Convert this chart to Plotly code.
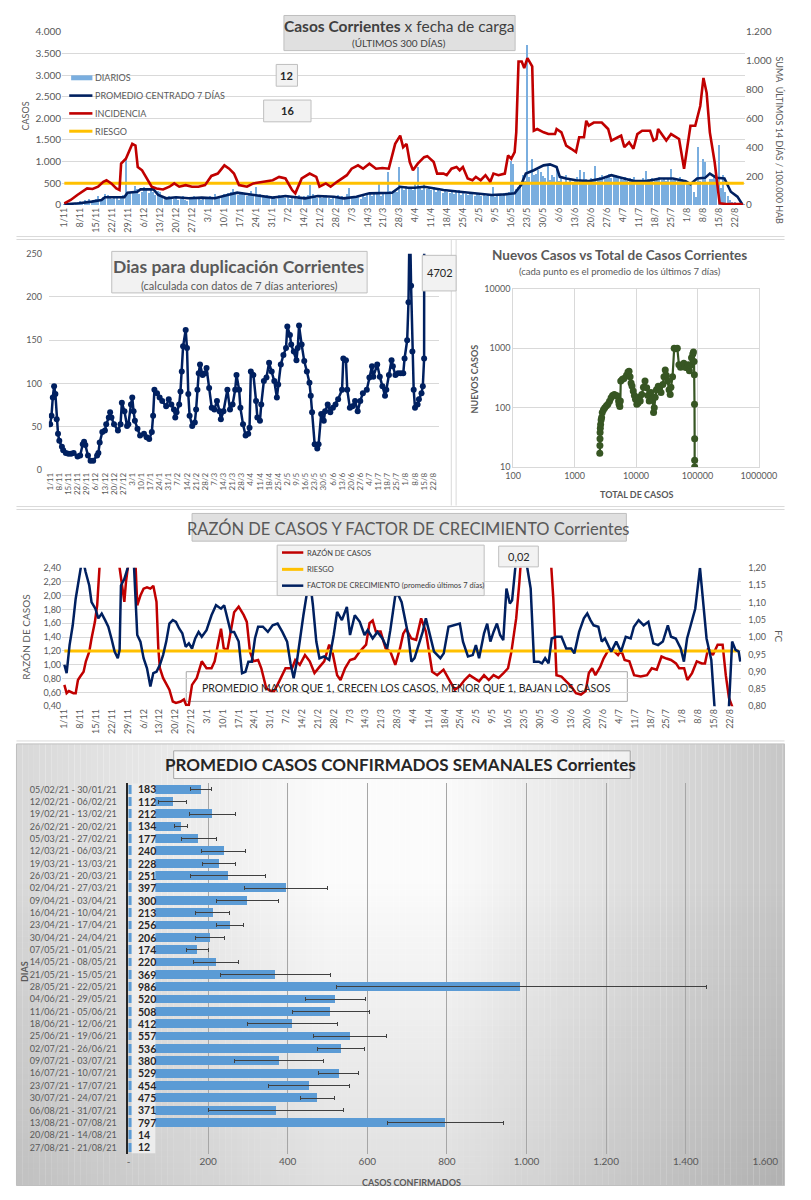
import plotly.graph_objects as go

PAGE_W, PAGE_H = 811, 1200
PAGE_MARGIN = 8  # the browser page adds an 8px body margin around the figure
W, H = PAGE_W - 2 * PAGE_MARGIN, PAGE_H - 2 * PAGE_MARGIN
FONT = "Lato"
GREY = "#595959"
DARK = "#404040"
RED = "#c00000"
NAVY = "#002060"
YELLOW = "#ffc000"
GREEN = "#375623"
BAR_BLUE = "#7aaedf"
WEEK_BLUE = "#5b9bd5"
GRID = "#d9d9d9"


def fx(p):
    return (p - PAGE_MARGIN) / W


def fy(p):
    return 1 - (p - PAGE_MARGIN) / H


# ---------------- data ----------------
DATE_TICK_LABELS = ["1/11", "8/11", "15/11", "22/11", "29/11", "6/12", "13/12", "20/12", "27/12",
                    "3/1", "10/1", "17/1", "24/1", "31/1", "7/2", "14/2", "21/2", "28/2", "7/3",
                    "14/3", "21/3", "28/3", "4/4", "11/4", "18/4", "25/4", "2/5", "9/5", "16/5",
                    "23/5", "30/5", "6/6", "13/6", "20/6", "27/6", "4/7", "11/7", "18/7", "25/7",
                    "1/8", "8/8", "15/8", "22/8"]
DATE_TICK_DAYS = [7 * i for i in range(len(DATE_TICK_LABELS))]  # days since 1/11/2020

# daily cases (day 0 = 1/11/2020)
DAILY_CASES = [
    10, 25, 40, 30, 50, 35, 60,
    90, 60, 110, 70, 130, 95, 80,
    150, 200, 120, 180, 250, 230, 160,
    140, 180, 190, 120, 200, 230, 1100,
    250, 280, 310, 450, 380, 260, 300,
    420, 350, 280, 390, 310, 240, 330,
    300, 200, 180, 140, 220, 160, 130,
    170, 120, 150, 200, 110, 90, 160,
    140, 220, 180, 150, 120, 190, 160,
    130, 200, 150, 260, 180, 170, 210,
    250, 200, 290, 310, 380, 260, 230,
    280, 300, 240, 200, 270, 330, 250,
    420, 220, 260, 200, 180, 240, 210,
    170, 200, 150, 230, 190, 210, 160,
    180, 150, 200, 170, 130, 230, 190,
    210, 180, 240, 460, 250, 200, 170,
    190, 160, 210, 230, 170, 150, 180,
    200, 230, 170, 210, 180, 250, 400,
    170, 160, 210, 190, 140, 200, 180,
    230, 260, 210, 280, 250, 480, 220,
    300, 260, 760, 320, 280, 350, 300,
    890, 400, 350, 450, 380, 420, 340,
    480, 880, 420, 360, 530, 380, 400,
    350, 420, 300, 380, 330, 290, 360,
    310, 280, 330, 260, 300, 350, 240,
    280, 250, 230, 300, 260, 220, 290,
    240, 210, 260, 200, 230, 250, 420,
    190, 230, 260, 210, 280, 250, 300,
    1030, 950, 380, 420, 500, 690, 560,
    3700, 640, 1070, 690, 720, 800, 760,
    680, 620, 900, 580, 700, 650, 860,
    560, 620, 480, 700, 540, 600, 520,
    580, 640, 800, 520, 760, 600, 540,
    620, 560, 914, 580, 640, 700, 600,
    660, 720, 620, 680, 700, 640, 610,
    580, 640, 560, 620, 600, 660, 540,
    580, 520, 620, 785, 600, 540, 620,
    560, 600, 640, 580, 620, 560, 600,
    840, 580, 620, 560, 640, 600, 580,
    560, 520, 480, 300, 180, 1333, 560,
    1070, 990, 520, 610, 610, 700, 640,
    1387, 400, 690, 300, 200, 120, 80,
    60, 40, 30, 16, 12, 0,
]

# 7-day centred average (day, cases)
PROMEDIO = [(0, 15), (6.4, 38), (12, 76), (16.3, 114), (17.8, 175), (26.3, 175), (27.7, 282),
            (32, 305), (33.4, 358), (39.1, 358), (41.2, 229), (44.7, 152), (49, 175), (54.6, 152),
            (60.3, 168), (66, 152), (71.6, 229), (75.8, 282), (80.1, 251), (85.7, 213), (91.4, 168),
            (97, 206), (102.7, 168), (105.5, 152), (111.2, 206), (118.2, 190), (122.5, 152),
            (128.1, 190), (133.8, 267), (139.5, 267), (143.7, 282), (147.3, 419), (150.8, 396),
            (153.6, 396), (157.8, 419), (160.6, 396), (166.3, 343), (173.4, 305), (180.5, 274),
            (187.5, 229), (193.2, 244), (197.5, 267), (200.3, 457), (202.4, 724), (205.9, 800),
            (210.2, 914), (213, 937), (215.9, 876), (217.3, 648), (220.1, 610), (224.4, 571),
            (230, 549), (235.7, 610), (239.9, 686), (244.2, 625), (249.9, 549), (255.5, 549),
            (261.2, 610), (266.9, 610), (272.5, 549), (274.6, 480), (277.5, 610), (281, 625),
            (283.1, 724), (286, 625), (289.5, 610), (292.3, 305), (295.2, 190), (297.3, 15)]

# incidence, 14-day sum per 100.000 (day, value)
INCIDENCIA = [(0, 11), (2.8, 34), (5.7, 69), (7.9, 91), (10, 114), (12.4, 110), (14.8, 126),
              (17.1, 160), (18.5, 171), (20.6, 149), (22.8, 114), (24.2, 103), (24.9, 286),
              (27, 320), (28.4, 366), (29.8, 423), (31.2, 411), (32.2, 263), (34.1, 240),
              (36.2, 183), (38.3, 126), (40.4, 114), (43.3, 107), (46.1, 126), (48.2, 149),
              (50.4, 126), (53.2, 137), (56, 126), (58.8, 126), (61.7, 137), (64.5, 201),
              (67.3, 217), (70.2, 274), (72.3, 251), (74.4, 217), (76.6, 137), (80.1, 126),
              (82.9, 149), (87.1, 160), (91.4, 171), (94.2, 194), (97, 183), (99.9, 103),
              (101.3, 80), (104.1, 183), (107.6, 217), (110.5, 194), (111.9, 126), (114.7, 149),
              (116.8, 126), (119.6, 160), (121.8, 183), (123.9, 206), (126, 251), (128.8, 274),
              (131, 251), (133.8, 286), (136.7, 251), (139.5, 256), (142.3, 251), (143.7, 343),
              (145.1, 423), (147.3, 480), (148.6, 400), (150.1, 423), (151.5, 297), (152.9, 240),
              (155, 286), (157.8, 331), (159.2, 338), (162, 297), (163.5, 217), (166.3, 217),
              (167.7, 206), (169.8, 251), (172, 263), (173.4, 240), (174.8, 263), (176.9, 183),
              (179, 171), (180.5, 194), (182.6, 171), (184.7, 206), (186.8, 160), (188.2, 217),
              (190.4, 206), (193.2, 217), (194.6, 343), (196, 320), (197.5, 366), (198.2, 503),
              (199.2, 994), (200.6, 994), (201.7, 949), (203.1, 1017), (205.2, 960), (205.9, 514),
              (207.4, 526), (210.2, 503), (212.3, 491), (215.2, 491), (215.9, 526), (218, 503),
              (220.1, 411), (222.3, 389), (224.4, 366), (225.8, 469), (227.9, 469), (228.9, 583),
              (230, 549), (232.2, 571), (235.7, 571), (238.5, 526), (239.9, 446), (242.8, 469),
              (244.2, 480), (245.6, 400), (247.7, 434), (249.6, 389), (251.3, 491), (253.4, 514),
              (256.9, 514), (258.4, 446), (259.7, 457), (260.4, 526), (264, 446), (266.1, 491),
              (268.2, 469), (269.6, 457), (271.8, 251), (273.2, 411), (274.6, 549), (276.7, 549),
              (278.9, 686), (280.3, 880), (281.7, 777), (283.1, 503), (285.2, 297), (287.4, 11),
              (290.9, 5), (296.6, 5), (297.7, 0)]

RIESGO_CASES = 500
RIESGO_SPAN = [0, 298]

# doubling time in days (day, value)
DUPLICACION = [(0, 53), (1, 63), (2, 84), (3, 97), (4, 88), (5, 59), (6, 42), (7, 34), (9, 27), (10, 23),
               (12, 20), (14, 19), (16, 19), (18, 20), (21, 16), (23, 17), (25, 30), (26, 33), (27, 29),
               (29, 17), (31, 11), (33, 11), (36, 17), (37, 20), (38, 32), (40, 44), (42, 46), (43, 53),
               (45, 61), (46, 67), (47, 61), (49, 53), (52, 46), (54, 53), (55, 78), (57, 68), (59, 51),
               (60, 53), (62, 76), (63, 84), (64, 68), (65, 57), (67, 48), (69, 40), (72, 42), (74, 38),
               (76, 36), (78, 44), (79, 63), (80, 93), (82, 89), (84, 84), (86, 80), (89, 74), (91, 82),
               (93, 76), (95, 70), (96, 61), (97, 67), (99, 76), (100, 91), (101, 114), (102, 143),
               (104, 162), (105, 141), (106, 88), (107, 63), (109, 51), (111, 55), (112, 70), (113, 93),
               (114, 112), (115, 122), (117, 110), (119, 112), (120, 118), (122, 95), (124, 72), (126, 70),
               (128, 80), (130, 68), (131, 59), (133, 68), (136, 93), (138, 70), (140, 76), (142, 93),
               (143, 110), (145, 93), (146, 72), (148, 53), (150, 40), (152, 42), (153, 49), (154, 114),
               (156, 110), (158, 80), (159, 61), (161, 57), (162, 76), (164, 103), (166, 107), (168, 124),
               (170, 114), (172, 103), (174, 84), (175, 99), (177, 122), (179, 133), (181, 141), (182, 166),
               (184, 156), (185, 145), (187, 137), (189, 127), (190, 141), (191, 167), (193, 145), (195, 126),
               (197, 114), (199, 101), (200, 86), (201, 67), (203, 30), (205, 25), (206, 30), (208, 65),
               (210, 57), (211, 68), (213, 76), (215, 67), (217, 72), (219, 76), (221, 82), (224, 93),
               (225, 129), (227, 127), (228, 93), (230, 72), (232, 74), (234, 80), (236, 68), (238, 80),
               (240, 89), (243, 93), (245, 107), (247, 120), (248, 108), (251, 122), (253, 108), (255, 97),
               (257, 86), (258, 93), (260, 110), (262, 127), (263, 120), (265, 110), (267, 112), (269, 112),
               (271, 112), (272, 129), (274, 150), (275, 194), (276, 300), (277, 213), (278, 137), (279, 93),
               (280, 72), (282, 76), (283, 82), (285, 89), (286, 97), (287, 129), (289, 4702)]
DUP_LAST = "4702"

# new cases (7-day avg) vs total cases
SCATTER = [(2570, 17), (2580, 23), (2590, 30), (2600, 38), (2620, 45), (2650, 52), (2700, 62), (2750, 68),
           (2820, 83), (2950, 92), (3100, 100), (3300, 108), (3480, 114), (3700, 128), (3930, 147),
           (4150, 160), (4430, 167), (4700, 160), (5000, 157), (5200, 130), (5300, 114), (5450, 105),
           (5550, 130), (5640, 280), (6000, 300), (6360, 310), (7000, 350), (7400, 400), (7700, 410),
           (8000, 330), (8300, 260), (8600, 231), (9000, 190), (9400, 160), (9800, 139), (10300, 114),
           (10800, 120), (11300, 150), (11700, 129), (12400, 167), (13200, 220), (14000, 280),
           (14900, 217), (15600, 160), (16400, 129), (17500, 180), (18500, 140), (19300, 83),
           (19800, 100), (20500, 150), (21500, 200), (23000, 230), (24200, 217), (25500, 180),
           (27300, 246), (28500, 330), (29900, 430), (31000, 350), (32700, 280), (34500, 200),
           (36000, 167), (37000, 220), (39300, 330), (41800, 1000), (44000, 980), (47000, 1000),
           (49900, 530), (53000, 480), (56000, 520), (60000, 560), (63000, 480), (67500, 470),
           (71000, 530), (74000, 420), (77000, 520), (80000, 690), (84000, 800), (86000, 870),
           (88000, 600), (89000, 360), (89500, 114), (90000, 30), (90000, 13), (90000, 10)]

# case ratio (day, value) and growth factor (day, value)
RAZON = [(0, 0.71), (1, 0.59), (2, 0.62), (4, 0.59), (5, 0.59), (6, 0.78), (7, 0.83), (8.5, 0.90), (9.5, 1.05),
         (11, 1.19), (12, 1.38), (13.5, 1.62), (14.5, 1.86), (15, 2.40), (17, 3.2), (20, 3.6), (23, 3.0),
         (24.4, 2.40), (25.8, 2.10), (26.5, 1.91), (27.2, 2.19), (28, 2.40), (30, 2.9), (31.5, 2.40),
         (32.2, 1.86), (33.6, 2.00), (35, 2.10), (36.5, 2.12), (38, 2.10), (39.3, 2.14), (40.7, 1.91),
         (41.5, 1.24), (42.2, 0.95), (43.6, 0.81), (45, 0.73), (46.4, 0.64), (47.9, 0.47), (49.3, 0.45),
         (51.4, 0.47), (52.8, 0.50), (53.8, 0.42), (55, 0.42), (56.4, 0.71), (58.5, 0.81), (60.7, 1.05),
         (62.8, 0.95), (65, 0.95), (66.4, 1.05), (67.8, 1.29), (69.2, 1.52), (70.4, 1.24), (72, 1.21),
         (73.5, 1.48), (75, 1.76), (77, 1.84), (79.2, 1.72), (80.6, 1.62), (82, 1.19), (83.5, 1.05),
         (85.6, 1.07), (87, 0.95), (89.2, 0.66), (91.3, 0.62), (92.7, 0.62), (94.9, 0.76), (97.7, 0.95),
         (100.6, 0.95), (102, 1.07), (104, 1.00), (106.3, 1.14), (108.4, 1.05), (110.5, 0.88),
         (112.7, 0.97), (114.8, 1.05), (117, 1.29), (118.4, 1.19), (120.5, 0.85), (122, 0.78),
         (124, 0.95), (126.2, 1.07), (128.3, 1.09), (130.5, 1.19), (133.3, 1.29), (134.8, 1.60),
         (136.2, 1.64), (137.6, 1.48), (139.7, 1.48), (141.9, 1.24), (144, 1.19), (146.2, 1.00),
         (148.3, 1.24), (149.7, 1.45), (151, 1.52), (153.3, 1.38), (155.4, 1.36), (157.6, 1.67),
         (159.7, 1.48), (162.5, 0.90), (164.7, 0.85), (167.5, 0.93), (170.4, 0.76), (172.5, 0.64),
         (174.7, 0.69), (176.8, 0.78), (179, 0.85), (181, 0.81), (183.2, 0.76), (185.4, 0.85),
         (187.5, 0.78), (189.6, 0.85), (191.8, 0.81), (194, 0.88), (196, 0.95), (197.5, 1.19),
         (199.6, 1.67), (201, 2.19), (201.7, 2.40), (205, 4.0), (212, 4.0), (215.3, 2.40), (216, 1.96),
         (217.4, 0.85), (219.6, 0.83), (221.7, 0.76), (223.9, 0.69), (226, 0.59), (228.2, 0.57),
         (230.3, 0.62), (231.7, 0.88), (233.2, 0.95), (234.6, 0.85), (236.7, 0.97), (238.2, 1.09),
         (240.3, 1.21), (242.5, 1.21), (244.6, 1.14), (246, 1.21), (247.5, 1.07), (249.6, 1.05),
         (251.7, 0.85), (254.6, 0.83), (257.4, 0.85), (259.5, 0.95), (261.7, 0.93), (263.8, 1.12),
         (266, 1.09), (268, 1.07), (270.2, 1.02), (271.6, 0.95), (273.8, 0.95), (275.2, 0.78),
         (277.3, 0.88), (279.4, 1.05), (281.6, 1.02), (283, 1.02), (284.4, 1.24), (286.5, 1.14),
         (288.6, 1.29), (290.8, 1.29), (292.2, 0.85), (293.6, 0.52), (295, 0.40), (296, 0.30)]

FACTOR = [(0, 0.92), (1, 0.896), (2.3, 0.977), (3.7, 1.034), (5, 1.111), (6, 1.159), (7, 1.20), (8, 1.23),
          (9.4, 1.188), (11, 1.149), (12, 1.101), (13.7, 1.082), (15, 1.054), (16.5, 1.068), (18, 1.049),
          (19.4, 1.030), (20.8, 0.996), (22.2, 0.958), (23.6, 0.939), (24.4, 0.963), (25, 1.149),
          (26.5, 1.168), (28, 1.20), (29.5, 1.24), (30.8, 1.20), (32.2, 1.006), (33.6, 0.987), (35, 0.939),
          (36.5, 0.910), (38, 0.857), (39.3, 0.896), (40.7, 0.900), (42.2, 0.920), (43.6, 0.948),
          (45, 0.987), (46.4, 1.039), (47.9, 1.049), (49.3, 1.044), (50.7, 1.025), (52.1, 1.011),
          (53.6, 0.972), (55, 0.982), (56.4, 0.967), (57.8, 0.996), (59.3, 1.015), (60.7, 1.001),
          (62.8, 1.020), (65, 1.063), (67, 1.092), (69.2, 1.082), (70.6, 1.092), (72, 1.054),
          (73.5, 1.015), (75, 1.015), (77, 0.987), (78.5, 0.896), (80, 0.900), (81.3, 0.929),
          (82.8, 0.929), (84.2, 0.996), (85.6, 1.030), (87.7, 1.030), (89.9, 1.015), (92, 1.034),
          (94.2, 1.039), (96.3, 1.015), (98.4, 0.987), (99.9, 0.924), (101.3, 0.881), (102.7, 0.929),
          (104, 0.996), (105.6, 1.063), (107, 1.121), (108.4, 1.17), (109.8, 1.092), (111.3, 0.987),
          (112.7, 0.939), (114.8, 0.944), (117, 0.934), (119, 1.006), (120.5, 1.073), (122.6, 1.049),
          (124.8, 1.087), (126.2, 1.006), (128.3, 1.063), (130.5, 1.044), (132.6, 1.006), (134, 1.020),
          (136.2, 0.996), (138.3, 1.015), (140.5, 0.996), (142.6, 0.967), (144, 1.020), (146.2, 1.121),
          (147.6, 1.121), (149, 1.101), (151.9, 1.006), (153.3, 0.929), (154.7, 0.939), (156.2, 0.972),
          (158.3, 1.015), (159.7, 1.054), (161.9, 0.996), (163.3, 0.958), (166.1, 0.939), (167.6, 0.953),
          (169.7, 1.030), (172.5, 1.034), (174.7, 1.039), (176.1, 0.987), (178.3, 0.944), (180.4, 0.948),
          (181.8, 0.977), (183.2, 0.939), (185.4, 1.011), (186.8, 1.039), (188.2, 0.987), (189.6, 1.015),
          (191.1, 1.039), (192.5, 1.006), (193.9, 0.991), (195.3, 1.140), (196.8, 1.097), (197.8, 1.106),
          (199.2, 1.20), (202, 1.30), (204.6, 1.20), (206, 1.140), (207.5, 0.929), (209.6, 0.929),
          (211, 0.924), (212.4, 0.939), (213.9, 0.924), (215.3, 0.996), (217.4, 1.001), (219.6, 1.001),
          (221.7, 0.967), (223.9, 0.967), (225.3, 0.953), (227.4, 1.015), (229.5, 1.054), (231, 1.068),
          (232.4, 1.049), (233.8, 1.034), (235.9, 1.030), (237.4, 0.987), (238.8, 0.996), (240.2, 0.977),
          (241.6, 0.958), (243.8, 0.987), (245.9, 0.958), (248, 1.001), (250.2, 0.996), (251.6, 1.030),
          (253.7, 1.049), (255.9, 1.034), (258, 1.044), (260.2, 0.982), (262.3, 0.977), (264.4, 0.987),
          (266.6, 1.034), (268, 1.001), (270.1, 0.996), (272.3, 0.967), (273.7, 0.929), (275.1, 0.996),
          (277.3, 1.054), (278.7, 1.082), (280.8, 1.20), (282.2, 1.111), (283.7, 0.996), (285.8, 0.934),
          (287.2, 0.80), (290, 0.70), (293.6, 0.80), (295, 0.987), (296.5, 0.963), (297.9, 0.958),
          (298.6, 0.929)]
RIESGO_RATIO = 1.20
RATIO_LAST = "0,02"

# weekly averages
WEEK_LABELS = ["05/02/21 - 30/01/21", "12/02/21 - 06/02/21", "19/02/21 - 13/02/21", "26/02/21 - 20/02/21",
               "05/03/21 - 27/02/21", "12/03/21 - 06/03/21", "19/03/21 - 13/03/21", "26/03/21 - 20/03/21",
               "02/04/21 - 27/03/21", "09/04/21 - 03/04/21", "16/04/21 - 10/04/21", "23/04/21 - 17/04/21",
               "30/04/21 - 24/04/21", "07/05/21 - 01/05/21", "14/05/21 - 08/05/21", "21/05/21 - 15/05/21",
               "28/05/21 - 22/05/21", "04/06/21 - 29/05/21", "11/06/21 - 05/06/21", "18/06/21 - 12/06/21",
               "25/06/21 - 19/06/21", "02/07/21 - 26/06/21", "09/07/21 - 03/07/21", "16/07/21 - 10/07/21",
               "23/07/21 - 17/07/21", "30/07/21 - 24/07/21", "06/08/21 - 31/07/21", "13/08/21 - 07/08/21",
               "20/08/21 - 14/08/21", "27/08/21 - 21/08/21"]
WEEK_AVG = [183, 112, 212, 134, 177, 240, 228, 251, 397, 300, 213, 256, 206, 174, 220, 369, 986, 520,
            508, 412, 557, 536, 380, 529, 454, 475, 371, 797, 14, 12]
WEEK_LOW = [155, 75, 154, 116, 133, 183, 187, 156, 292, 220, 169, 222, 169, 145, 163, 230, 522, 444,
            411, 299, 466, 476, 267, 477, 352, 433, 200, 651, 14, 12]
WEEK_HIGH = [209, 146, 270, 149, 220, 294, 270, 345, 500, 378, 255, 288, 241, 201, 276, 507, 1451, 595,
             605, 524, 649, 593, 491, 578, 554, 518, 541, 943, 14, 12]

TOP_LEFT_TICKS = [0, 500, 1000, 1500, 2000, 2500, 3000, 3500, 4000]
TOP_LEFT_LABELS = ["0", "500", "1.000", "1.500", "2.000", "2.500", "3.000", "3.500", "4.000"]
TOP_RIGHT_TICKS = [0, 200, 400, 600, 800, 1000, 1200]
TOP_RIGHT_LABELS = ["0", "200", "400", "600", "800", "1.000", "1.200"]
DUP_TICKS = [0, 50, 100, 150, 200, 250]
LOGX_TICKS = [100, 1000, 10000, 100000, 1000000]
LOGY_TICKS = [10, 100, 1000, 10000]
RAZ_TICKS = [0.4, 0.6, 0.8, 1.0, 1.2, 1.4, 1.6, 1.8, 2.0, 2.2, 2.4]
RAZ_LABELS = ["0,40", "0,60", "0,80", "1,00", "1,20", "1,40", "1,60", "1,80", "2,00", "2,20", "2,40"]
FC_TICKS = [0.80, 0.85, 0.90, 0.95, 1.00, 1.05, 1.10, 1.15, 1.20]
FC_LABELS = ["0,80", "0,85", "0,90", "0,95", "1,00", "1,05", "1,10", "1,15", "1,20"]
WEEK_X_TICKS = [0, 200, 400, 600, 800, 1000, 1200, 1400, 1600]
WEEK_X_LABELS = ["-", "200", "400", "600", "800", "1.000", "1.200", "1.400", "1.600"]

# ---------------- figure ----------------
fig = go.Figure()

# panel 1
fig.add_trace(go.Bar(x0=0, dx=1, y=DAILY_CASES, marker_color=BAR_BLUE, marker_line_width=0,
                     width=0.5, xaxis="x", yaxis="y"))
fig.add_trace(go.Scatter(x=[d for d, _ in PROMEDIO], y=[v for _, v in PROMEDIO], mode="lines",
                         line=dict(color=NAVY, width=2.6), xaxis="x", yaxis="y"))
fig.add_trace(go.Scatter(x=RIESGO_SPAN, y=[RIESGO_CASES, RIESGO_CASES], mode="lines",
                         line=dict(color=YELLOW, width=3), xaxis="x", yaxis="y"))
fig.add_trace(go.Scatter(x=[d for d, _ in INCIDENCIA], y=[v for _, v in INCIDENCIA], mode="lines",
                         line=dict(color=RED, width=2.6), xaxis="x", yaxis="y2"))

# panel 2 left
fig.add_trace(go.Scatter(x=[d for d, _ in DUPLICACION], y=[v for _, v in DUPLICACION], mode="lines+markers",
                         line=dict(color=NAVY, width=2.5), marker=dict(color=NAVY, size=6),
                         xaxis="x2", yaxis="y3"))

# panel 2 right
fig.add_trace(go.Scatter(x=[t for t, _ in SCATTER], y=[n for _, n in SCATTER], mode="lines+markers",
                         line=dict(color=GREEN, width=2.2), marker=dict(color=GREEN, size=7),
                         xaxis="x3", yaxis="y4"))

# panel 3
fig.add_trace(go.Scatter(x=[d for d, _ in RAZON], y=[v for _, v in RAZON], mode="lines",
                         line=dict(color=RED, width=2.5), xaxis="x4", yaxis="y5"))
fig.add_trace(go.Scatter(x=RIESGO_SPAN, y=[RIESGO_RATIO, RIESGO_RATIO], mode="lines",
                         line=dict(color=YELLOW, width=3), xaxis="x4", yaxis="y5"))
fig.add_trace(go.Scatter(x=[d for d, _ in FACTOR], y=[v for _, v in FACTOR], mode="lines",
                         line=dict(color=NAVY, width=2.5), xaxis="x4", yaxis="y6"))

# panel 4
fig.add_trace(go.Bar(y=WEEK_LABELS, x=WEEK_AVG, orientation="h", marker_color=WEEK_BLUE,
                     marker_line_width=0, width=0.72,
                     error_x=dict(type="data", symmetric=False,
                                  array=[h - a for h, a in zip(WEEK_HIGH, WEEK_AVG)],
                                  arrayminus=[a - l for a, l in zip(WEEK_AVG, WEEK_LOW)],
                                  color=DARK, thickness=1, width=2),
                     xaxis="x5", yaxis="y7"))

tickf = dict(family=FONT, size=9, color=GREY)

fig.update_layout(
    width=W, height=H, margin=dict(l=0, r=0, t=0, b=0),
    paper_bgcolor="white", plot_bgcolor="rgba(0,0,0,0)", showlegend=False,
    font=dict(family=FONT, color=GREY), bargap=0,
    xaxis=dict(domain=[fx(55.6), fx(761.6)], range=[-1, 298.5], anchor="y",
               tickvals=DATE_TICK_DAYS, ticktext=DATE_TICK_LABELS, tickangle=-90,
               tickfont=tickf, showgrid=False, zeroline=False),
    yaxis=dict(domain=[fy(200), fy(25)], range=[0, 4000], anchor="x",
               tickvals=TOP_LEFT_TICKS, ticktext=TOP_LEFT_LABELS, tickfont=dict(family=FONT, size=10, color=GREY),
               gridcolor=GRID, zeroline=False),
    yaxis2=dict(overlaying="y", side="right", range=[0, 1200], anchor="x",
                tickvals=TOP_RIGHT_TICKS, ticktext=TOP_RIGHT_LABELS,
                tickfont=dict(family=FONT, size=10, color=GREY), showgrid=False, zeroline=False),
    xaxis2=dict(domain=[fx(42), fx(445)], range=[-1, 298.2], anchor="y3",
                tickvals=DATE_TICK_DAYS, ticktext=DATE_TICK_LABELS, tickangle=-90,
                tickfont=dict(family=FONT, size=8, color=GREY), showgrid=False, zeroline=False),
    yaxis3=dict(domain=[fy(468.3), fy(249.3)], range=[0, 250], anchor="x2",
                tickvals=DUP_TICKS, tickfont=tickf, gridcolor=GRID, zeroline=False, ticklabelstandoff=6),
    xaxis3=dict(type="log", domain=[fx(522), fx(776)], range=[2, 6], anchor="y4",
                tickvals=LOGX_TICKS, ticktext=[str(v) for v in LOGX_TICKS], tickfont=tickf,
                gridcolor=GRID, showline=True, linecolor=GRID, mirror=True, zeroline=False),
    yaxis4=dict(type="log", domain=[fy(465), fy(285)], range=[1, 4], anchor="x3",
                tickvals=LOGY_TICKS, ticktext=[str(v) for v in LOGY_TICKS], tickfont=tickf,
                gridcolor=GRID, showline=True, linecolor=GRID, mirror=True, zeroline=False),
    xaxis4=dict(domain=[fx(55.66), fx(757.7)], range=[-1, 299], anchor="y5",
                tickvals=DATE_TICK_DAYS, ticktext=DATE_TICK_LABELS, tickangle=-90,
                tickfont=tickf, showgrid=False, zeroline=False),
    yaxis5=dict(domain=[fy(707), fy(567)], range=[0.4, 2.4], anchor="x4",
                tickvals=RAZ_TICKS, ticktext=RAZ_LABELS, tickfont=tickf, gridcolor=GRID, zeroline=False),
    yaxis6=dict(overlaying="y5", side="right", range=[0.8, 1.2], anchor="x4",
                tickvals=FC_TICKS, ticktext=FC_LABELS, tickfont=tickf, showgrid=False, zeroline=False,
                ticklabelstandoff=6),
    xaxis5=dict(domain=[fx(124.3), fx(782.7)], range=[0, 1600], anchor="y7",
                tickvals=WEEK_X_TICKS, ticktext=WEEK_X_LABELS, tickfont=dict(family=FONT, size=10, color=GREY),
                gridcolor="#a6a6a6", zeroline=False),
    yaxis7=dict(domain=[fy(1159.2), fy(784.8)], type="category", range=[len(WEEK_LABELS) - 0.5, -0.5],
                anchor="x5", showline=True, linecolor="#262626", linewidth=2, showgrid=False,
                tickfont=dict(family=FONT, size=9, color=GREY), ticks="", ticklabelstandoff=8),
)

shapes = []
ann = []
LO_X, HI_X = PAGE_MARGIN + 0.5, PAGE_W - PAGE_MARGIN - 0.5
LO_Y, HI_Y = PAGE_MARGIN + 0.5, PAGE_H - PAGE_MARGIN - 0.5


def clampx(p):
    return min(max(p, LO_X), HI_X)


def clampy(p):
    return min(max(p, LO_Y), HI_Y)


def rect(x0, y0, x1, y1, fill=None, line="#d9d9d9", lw=1, layer="below"):
    x0, x1, y0, y1 = clampx(x0), clampx(x1), clampy(y0), clampy(y1)
    shapes.append(dict(type="rect", xref="paper", yref="paper", x0=fx(x0), x1=fx(x1), y0=fy(y1), y1=fy(y0),
                       fillcolor=fill if fill else "rgba(0,0,0,0)",
                       line=dict(color=line, width=lw), layer=layer))


def hline(x0, x1, y, color, w, layer="above"):
    shapes.append(dict(type="line", xref="paper", yref="paper", x0=fx(clampx(x0)), x1=fx(clampx(x1)),
                       y0=fy(y), y1=fy(y), line=dict(color=color, width=w), layer=layer))


def vline(x, y0, y1, color, w, layer="below"):
    shapes.append(dict(type="line", xref="paper", yref="paper", x0=fx(x), x1=fx(x),
                       y0=fy(clampy(y0)), y1=fy(clampy(y1)), line=dict(color=color, width=w), layer=layer))


def text(x, y, s, size=9, color=GREY, angle=0, xanchor="center", bold=False):
    ann.append(dict(xref="paper", yref="paper", x=fx(x), y=fy(y), text=("<b>%s</b>" % s) if bold else s,
                    showarrow=False, textangle=angle, xanchor=xanchor, yanchor="middle",
                    font=dict(family=FONT, size=size, color=color)))


# bottom panel background: light centre fading to grey at the sides and bottom
P4_X0, P4_X1, P4_Y0, P4_Y1 = 4, 808, 745, 1197
GRAD_CX = 390
step = 6
xs = clampx(P4_X0)
while xs < clampx(P4_X1):
    xe = min(xs + step, clampx(P4_X1))
    xm = (xs + xe) / 2
    dist = abs(xm - GRAD_CX)
    k = 0.11 if xm < GRAD_CX else 0.15
    g = int(round(max(196, 251 - max(0, dist - 60) * k)))
    shapes.append(dict(type="rect", xref="paper", yref="paper", x0=fx(xs), x1=fx(xe),
                       y0=fy(clampy(P4_Y1)), y1=fy(P4_Y0), fillcolor="rgb(%d,%d,%d)" % (g, g, g),
                       line=dict(width=0), layer="below"))
    xs = xe
ys = 880
while ys < clampy(P4_Y1):
    ye = min(ys + step, clampy(P4_Y1))
    a = 0.11 * ((ys + ye) / 2 - 880) / (P4_Y1 - 880)
    shapes.append(dict(type="rect", xref="paper", yref="paper", x0=fx(clampx(P4_X0)), x1=fx(clampx(P4_X1)),
                       y0=fy(ye), y1=fy(ys), fillcolor="rgba(0,0,0,%.3f)" % a,
                       line=dict(width=0), layer="below"))
    ys = ye

# panel separators / frames
hline(1, 809, 232, GRID, 1, layer="below")
hline(1, 809, 235, GRID, 1, layer="below")
vline(458, 235, 504, GRID, 1)
vline(463, 235, 504, GRID, 1)
hline(1, 809, 505, GRID, 1, layer="below")
hline(1, 809, 508, GRID, 1, layer="below")
hline(1, 809, 742, GRID, 1, layer="below")
rect(P4_X0, P4_Y0, P4_X1, P4_Y1, line="#bfbfbf")

# ---- panel 1 decorations
rect(285, 6, 524, 44, fill="#e0e0e0", line="#bfbfbf", layer="above")
text(404, 19.5, "<b>Casos Corrientes</b> x fecha de carga", size=15.5, color=DARK)
text(404, 36.5, "(ÚLTIMOS 300 DÍAS)", size=10, color=DARK)
rect(277, 58, 299, 80, fill="#f2f2f2", line="#bfbfbf", layer="above")
text(288, 69, "12", size=11, color="#262626", bold=True)
rect(264, 94, 313, 116, fill="#f2f2f2", line="#bfbfbf", layer="above")
text(288.5, 105, "16", size=11, color="#262626", bold=True)
rect(65, 69, 87, 74, fill=BAR_BLUE, line=BAR_BLUE, lw=0, layer="above")
hline(63, 87, 89.5, NAVY, 2.6)
hline(63, 87, 107.5, RED, 2.6)
hline(63, 87, 125.5, YELLOW, 3)
text(88, 71.5, "DIARIOS", size=9, xanchor="left")
text(88, 89.5, "PROMEDIO CENTRADO 7 DÍAS", size=9, xanchor="left")
text(88, 107.5, "INCIDENCIA", size=9, xanchor="left")
text(88, 125.5, "RIESGO", size=9, xanchor="left")
text(18, 110, "CASOS", size=9, angle=-90)
text(797, 135, "SUMA  ÚLTIMOS 14 DÍAS / 100.000 HAB", size=9, angle=90)

# ---- panel 2 left decorations
rect(107, 247, 371, 289, fill="#f2f2f2", line="#bfbfbf", layer="above")
text(239, 262, "<b>Dias para duplicación Corrientes</b>", size=17.5, color=GREY)
text(239, 281, "(calculada con datos de 7 días anteriores)", size=11, color=GREY)
rect(428, 251, 463, 287, fill="#f2f2f2", line="#bfbfbf", layer="above")
text(446, 268, DUP_LAST, size=11, color="#262626")

# ---- panel 2 right decorations
text(632, 251, "<b>Nuevos Casos vs Total de Casos Corrientes</b>", size=13.5, color=GREY)
text(632, 267.5, "(cada punto es el promedio de los últimos 7 días)", size=9.5, color=GREY)
text(482, 376, "NUEVOS CASOS", size=9, angle=-90, bold=True)
text(649, 493, "TOTAL DE CASOS", size=9, bold=True)

# ---- panel 3 decorations
rect(184, 672, 640, 702, fill="white", line="#a6a6a6", layer="below")
rect(190, 512, 639, 540, fill="#e0e0e0", line="#bfbfbf", layer="above")
text(414, 527, "RAZÓN DE CASOS Y FACTOR DE CRECIMIENTO Corrientes", size=16.5, color=GREY)
rect(278, 544, 492, 595, fill="#f2f2f2", line="#bfbfbf", layer="above")
hline(283, 305, 551.5, RED, 2.5)
hline(283, 305, 568.5, YELLOW, 3)
hline(283, 305, 585, NAVY, 2.5)
text(307, 551.5, "RAZÓN DE CASOS", size=7.5, color=DARK, xanchor="left")
text(307, 568.5, "RIESGO", size=7.5, color=DARK, xanchor="left")
text(307, 585, "FACTOR DE CRECIMIENTO (promedio últimos 7 días)", size=7.5, color=DARK, xanchor="left")
rect(507, 545, 548, 566, fill="#f2f2f2", line="#bfbfbf", layer="above")
text(527.5, 555.5, RATIO_LAST, size=11, color="#262626")
text(412, 688, "PROMEDIO MAYOR QUE 1, CRECEN LOS CASOS, MENOR QUE 1, BAJAN LOS CASOS", size=10.5,
     color="#262626")
text(18, 637, "RAZÓN DE CASOS", size=10, angle=-90)
text(797, 636, "FC", size=10, angle=90)

# ---- panel 4 decorations
rect(171, 752, 643, 780, fill="rgba(255,255,255,0.55)", line="#a6a6a6", layer="above")
text(406, 766, "<b>PROMEDIO CASOS CONFIRMADOS SEMANALES Corrientes</b>", size=17, color="#262626")
shapes.append(dict(type="rect", xref="paper", yref="paper", x0=fx(127.5), x1=fx(152), y0=fy(1159),
                   y1=fy(785), fillcolor="#ededed", line=dict(width=0), layer="above"))
for lab, v in zip(WEEK_LABELS, WEEK_AVG):
    ann.append(dict(xref="paper", yref="y7", x=fx(132), y=lab, text="<b>%d</b>" % v, showarrow=False,
                    xanchor="left", yanchor="middle", font=dict(family=FONT, size=10.5, color="#262626")))
text(17, 975, "DIAS", size=9, angle=-90, bold=True)
text(417, 1188, "CASOS CONFIRMADOS", size=9, bold=True)

fig.update_layout(shapes=shapes, annotations=ann)
fig.write_html("out.html")
